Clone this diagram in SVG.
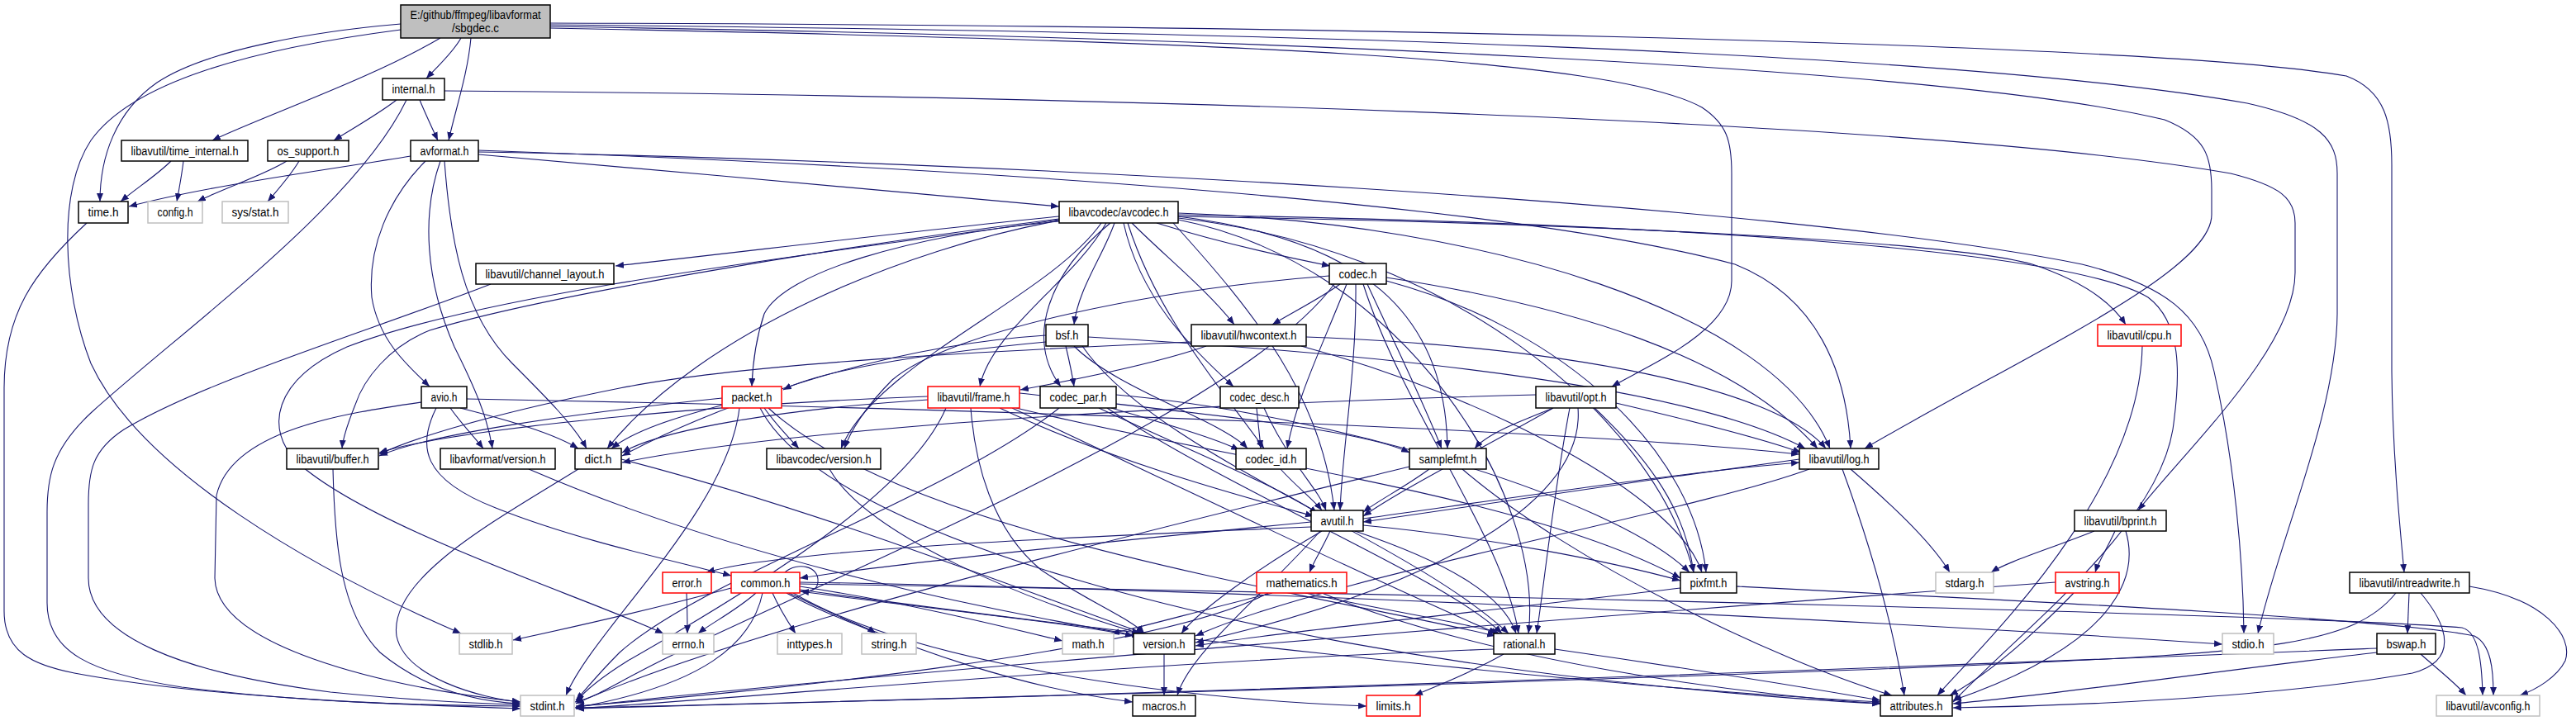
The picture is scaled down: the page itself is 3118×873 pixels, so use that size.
<svg xmlns="http://www.w3.org/2000/svg" width="3118" height="873" viewBox="0 0 3118 873">
<style>
.n rect{fill:#fff;stroke:#000;stroke-width:1.5}
.n.g rect{stroke:#bfbfbf}
.n.r rect{stroke:#f00}
.n.m rect{fill:#bfbfbf;stroke:#000}
.n text{font-family:"Liberation Sans",Arial,sans-serif;font-size:14px;fill:#000;text-anchor:middle}
#edges path{fill:none;stroke:#191970;stroke-width:1.1;marker-end:url(#a)}
</style>
<defs>
<marker id="a" markerUnits="userSpaceOnUse" markerWidth="11" markerHeight="8" refX="10" refY="4" orient="auto"><path d="M0,0 L10,4 L0,8 Z" fill="#191970"/></marker>
</defs>
<rect width="3118" height="873" fill="#fff"/>
<g id="edges">
<path d="M558,46 C548,64 530,80 516,95"/>
<path d="M570,46 C566,90 552,130 543,170"/>
<path d="M533,46 C450,95 320,140 257,170"/>
<path d="M485,29 C380,38 250,60 190,100 C140,135 121,190 121,244"/>
<path d="M485,36 C300,60 160,100 110,170 C70,230 75,350 110,440 C170,570 380,690 558,767"/>
<path d="M666,28 C1500,30 2600,50 2840,92 C2888,110 2895,150 2895,200 L2895,450 C2896,550 2905,640 2910,693"/>
<path d="M666,30 C1500,38 2350,60 2720,125 C2810,145 2829,170 2829,210 L2829,380 C2828,500 2760,650 2733,767"/>
<path d="M666,32 C1500,45 2350,80 2620,145 C2670,165 2677,190 2677,230 L2677,260 C2677,330 2450,430 2257,543"/>
<path d="M666,34 C1500,50 1950,70 2060,130 C2090,150 2096,170 2096,210 L2096,340 C2096,400 2000,440 1951,468"/>
<path d="M480,121 C458,138 428,155 404,170"/>
<path d="M508,121 C515,138 523,155 530,170"/>
<path d="M492,121 C430,250 220,400 110,500 C62,545 57,580 57,620 L57,730 C57,790 110,815 220,832 C380,852 520,854 630,855"/>
<path d="M538,110 C1200,115 2300,140 2700,210 C2760,225 2778,240 2778,270 L2778,330 C2778,420 2650,540 2588,618"/>
<path d="M207,195 C190,212 165,228 146,244"/>
<path d="M222,195 C220,212 217,228 214,244"/>
<path d="M347,195 C320,212 270,228 239,244"/>
<path d="M362,195 C352,212 338,228 324,244"/>
<path d="M497,189 C400,205 250,225 156,250"/>
<path d="M579,187 C800,205 1100,235 1282,250"/>
<path d="M515,195 C470,240 445,300 450,360 C458,410 490,440 520,468"/>
<path d="M533,195 C510,260 515,340 550,420 C575,470 590,505 596,543"/>
<path d="M538,195 C545,290 560,380 620,440 C660,480 695,515 710,543"/>
<path d="M579,184 C1200,195 2150,245 2520,320 C2620,345 2665,380 2680,450 C2705,560 2715,680 2716,767"/>
<path d="M579,182 C1100,200 1800,240 2100,320 C2200,360 2235,450 2240,543"/>
<path d="M105,270 C40,330 5,380 5,470 L5,740 C5,790 40,805 90,815 C250,845 480,853 630,858"/>
<path d="M1282,262 C1100,280 900,305 745,322"/>
<path d="M1282,266 C1050,300 600,350 420,420 C330,460 320,520 360,560 C450,640 700,720 803,767"/>
<path d="M1282,265 C1000,300 650,360 520,400 C470,420 440,460 430,490 C420,515 415,530 414,543"/>
<path d="M1282,267 C1100,300 850,400 735,543"/>
<path d="M1282,268 C1100,285 950,330 925,380 C915,410 911,440 910,468"/>
<path d="M1333,270 C1270,360 1060,440 1018,543"/>
<path d="M1339,270 C1300,340 1200,400 1186,468"/>
<path d="M1349,270 C1335,310 1305,350 1300,393"/>
<path d="M1344,270 C1270,330 1240,410 1284,468"/>
<path d="M1360,270 C1380,360 1440,420 1493,468"/>
<path d="M1365,270 C1400,380 1470,460 1530,543"/>
<path d="M1370,270 C1410,310 1460,350 1494,393"/>
<path d="M1400,270 C1480,295 1560,312 1610,322"/>
<path d="M1426,262 C1650,290 1750,380 1752,543"/>
<path d="M1420,270 C1520,380 1600,480 1615,618"/>
<path d="M1426,258 C1800,270 2150,380 2215,543"/>
<path d="M1426,264 C1750,300 2000,500 2050,693"/>
<path d="M1426,266 C1700,320 1870,600 1850,767"/>
<path d="M1426,262 C1900,270 2350,290 2460,320 C2520,340 2555,365 2573,393"/>
<path d="M1426,260 C2000,270 2500,300 2600,360 C2640,390 2640,450 2630,520 C2610,640 2450,760 2364,850"/>
<path d="M594,344 C450,400 250,460 150,520 C112,545 107,570 107,610 L107,700 C107,770 220,815 400,838 C500,848 580,852 630,853"/>
<path d="M1266,406 C1050,420 850,500 753,552"/>
<path d="M1317,408 C1700,430 2050,470 2185,543"/>
<path d="M1310,419 C1400,550 1700,650 1826,767"/>
<path d="M1300,419 C1350,470 1480,510 1510,543"/>
<path d="M1290,419 C1295,440 1298,455 1300,468"/>
<path d="M1266,414 C1150,425 1000,445 948,472"/>
<path d="M1615,344 C1500,500 1000,700 800,800 C740,830 720,845 696,850"/>
<path d="M1641,344 C1642,450 1625,540 1622,618"/>
<path d="M1622,344 C1600,360 1565,378 1540,393"/>
<path d="M1678,336 C1900,370 2100,430 2200,543"/>
<path d="M1678,340 C1900,400 2050,550 2065,693"/>
<path d="M1650,344 C1700,500 1820,650 1838,767"/>
<path d="M1655,344 C1690,420 1720,480 1745,543"/>
<path d="M1630,344 C1600,420 1570,480 1558,543"/>
<path d="M1609,334 C1400,350 1150,400 1080,460 C1050,490 1030,520 1022,543"/>
<path d="M1442,414 C1200,425 900,440 750,470 C600,500 500,530 459,550"/>
<path d="M1460,419 C1400,440 1300,460 1235,472"/>
<path d="M1581,408 C1900,420 2150,470 2210,543"/>
<path d="M1575,419 C1800,480 2030,600 2060,693"/>
<path d="M1530,494 C1560,560 1595,590 1605,618"/>
<path d="M1521,494 C1523,515 1525,530 1526,543"/>
<path d="M1550,568 C1570,590 1590,605 1600,618"/>
<path d="M1282,494 C1150,600 850,700 750,790 C720,820 705,840 697,848"/>
<path d="M1330,494 C1450,550 1550,590 1595,622"/>
<path d="M1340,494 C1500,600 1750,700 1818,767"/>
<path d="M1351,478 C1600,500 1950,600 2045,693"/>
<path d="M1345,494 C1400,510 1470,530 1500,545"/>
<path d="M895,494 C880,620 720,760 685,842"/>
<path d="M920,494 C1000,650 1500,780 2000,830 C2150,845 2230,850 2276,852"/>
<path d="M874,482 C700,500 520,525 459,552"/>
<path d="M876,490 C820,505 770,520 740,543"/>
<path d="M930,494 C1100,650 1600,720 1810,770"/>
<path d="M925,494 C940,515 955,530 967,543"/>
<path d="M1145,494 C1100,600 900,720 760,800 C720,825 705,840 697,850"/>
<path d="M1210,494 C1350,560 1500,600 1590,625"/>
<path d="M1123,480 C850,490 550,520 459,548"/>
<path d="M1123,484 C950,495 800,520 753,548"/>
<path d="M1225,494 C1450,600 1700,720 1812,767"/>
<path d="M1234,476 C1450,500 1650,520 1706,548"/>
<path d="M1230,494 C1500,560 1850,600 2034,700"/>
<path d="M1175,494 C1180,560 1200,640 1260,690 C1320,730 1370,750 1385,767"/>
<path d="M510,487 C420,500 280,520 262,600 L260,700 C262,780 450,830 630,850"/>
<path d="M528,494 C505,540 510,580 600,615 C700,655 820,680 885,697"/>
<path d="M557,494 C620,510 670,525 700,543"/>
<path d="M565,483 C1200,495 1900,520 2178,550"/>
<path d="M545,494 C560,515 575,530 585,543"/>
<path d="M640,568 C900,680 1200,740 1380,770"/>
<path d="M700,568 C600,630 470,700 480,770 C490,820 580,845 630,850"/>
<path d="M752,556 C1000,620 1250,720 1385,767"/>
<path d="M403,568 C405,650 410,740 460,790 C520,840 590,850 630,852"/>
<path d="M1004,568 C1050,650 1250,730 1380,767"/>
<path d="M1706,565 C1400,640 900,760 697,852"/>
<path d="M1730,568 C1700,590 1670,605 1650,620"/>
<path d="M1770,568 C1900,680 2150,800 2290,842"/>
<path d="M1900,494 C1880,600 1870,700 1860,767"/>
<path d="M1880,494 C1800,540 1700,590 1650,625"/>
<path d="M1859,478 C1400,490 950,520 753,560"/>
<path d="M1956,488 C2050,510 2130,530 2180,548"/>
<path d="M1930,494 C2000,560 2040,620 2050,693"/>
<path d="M1880,494 C1840,510 1800,525 1785,543"/>
<path d="M1910,494 C1920,620 1700,720 1447,778"/>
<path d="M1587,632 C1400,650 1100,680 968,700"/>
<path d="M1587,638 C1300,650 950,665 855,693"/>
<path d="M1640,643 C1750,680 1820,720 1835,767"/>
<path d="M1600,643 C1520,690 1450,740 1430,767"/>
<path d="M1598,643 C1530,720 1440,790 1425,842"/>
<path d="M1610,643 C1600,665 1590,680 1585,693"/>
<path d="M1650,628 C1850,600 2050,570 2178,560"/>
<path d="M1650,636 C1800,650 1950,680 2034,703"/>
<path d="M2240,568 C2300,620 2340,660 2360,693"/>
<path d="M2178,556 C2000,580 1800,610 1650,632"/>
<path d="M2230,568 C2260,650 2290,750 2305,842"/>
<path d="M2190,568 C2050,620 1600,700 1447,770"/>
<path d="M831,718 C832,740 832,755 832,767"/>
<path d="M915,718 C890,740 860,755 845,767"/>
<path d="M935,718 C945,740 955,755 963,767"/>
<path d="M960,718 C1100,800 1400,845 1654,855"/>
<path d="M968,710 C1100,730 1220,760 1286,776"/>
<path d="M923,718 C910,780 850,830 696,857"/>
<path d="M968,705 C1600,715 2400,760 2690,780"/>
<path d="M885,712 C800,735 700,758 621,775"/>
<path d="M952,718 C1000,745 1050,760 1060,767"/>
<path d="M968,714 C1300,760 1900,830 2276,850"/>
<path d="M955,718 C1100,790 1250,835 1371,850"/>
<path d="M968,716 C1150,740 1300,755 1372,770"/>
<path d="M968,707 C1800,720 2800,745 2980,760 C3000,765 3004,800 3005,842"/>
<path d="M950,693 C965,680 992,685 990,705 C989,715 980,717 969,716"/>
<path d="M1535,718 C1400,790 900,840 697,855"/>
<path d="M1540,718 C1450,740 1380,760 1345,767"/>
<path d="M1600,718 C1800,800 2100,840 2276,852"/>
<path d="M1580,718 C1680,740 1780,755 1815,767"/>
<path d="M2102,710 C2500,730 2900,750 2995,770 C3015,780 3018,810 3018,842"/>
<path d="M2034,712 C1800,740 1550,765 1447,782"/>
<path d="M1808,786 C1400,800 900,845 697,858"/>
<path d="M1820,792 C1780,815 1740,830 1712,842"/>
<path d="M1882,786 C2050,810 2200,835 2276,848"/>
<path d="M1409,792 L1409,842"/>
<path d="M2593,419 C2590,600 2400,780 2345,842"/>
<path d="M2535,643 C2480,665 2430,680 2410,693"/>
<path d="M2573,643 C2590,700 2560,780 2364,848"/>
<path d="M2560,643 C2550,665 2540,680 2536,693"/>
<path d="M2488,705 C2000,740 1000,820 697,856"/>
<path d="M2510,718 C2450,780 2400,820 2360,842"/>
<path d="M2900,718 C2850,780 2750,790 2400,805 C1800,830 1000,850 697,858"/>
<path d="M2989,710 C3080,725 3115,770 3105,800 C3095,820 3070,835 3050,842"/>
<path d="M2930,718 C2965,760 2975,800 2920,815 C2750,845 2500,855 2364,857"/>
<path d="M2916,718 L2914,767"/>
<path d="M2877,785 C2500,800 1500,840 697,857"/>
<path d="M2930,792 C2950,810 2970,825 2985,842"/>
<path d="M2877,790 C2700,810 2500,840 2364,852"/>
</g>
<g id="sbgdec" class="n m"><rect x="485" y="6" width="181" height="40"/><text x="575.5" y="23" textLength="158" lengthAdjust="spacingAndGlyphs">E:/github/ffmpeg/libavformat</text><text x="575.5" y="39" textLength="57" lengthAdjust="spacingAndGlyphs">/sbgdec.c</text></g>
<g id="internal" class="n"><rect x="463" y="95" width="75" height="26"/><text x="500.5" y="113" textLength="52" lengthAdjust="spacingAndGlyphs">internal.h</text></g>
<g id="time_internal" class="n"><rect x="147" y="170" width="153" height="25"/><text x="223.5" y="188" textLength="130" lengthAdjust="spacingAndGlyphs">libavutil/time_internal.h</text></g>
<g id="os_support" class="n"><rect x="324" y="170" width="98" height="25"/><text x="373" y="188" textLength="75" lengthAdjust="spacingAndGlyphs">os_support.h</text></g>
<g id="avformat" class="n"><rect x="497" y="170" width="82" height="25"/><text x="538" y="188" textLength="59" lengthAdjust="spacingAndGlyphs">avformat.h</text></g>
<g id="time" class="n"><rect x="95" y="244" width="60" height="26"/><text x="125" y="262" textLength="37" lengthAdjust="spacingAndGlyphs">time.h</text></g>
<g id="config" class="n g"><rect x="179" y="244" width="66" height="26"/><text x="212" y="262" textLength="43" lengthAdjust="spacingAndGlyphs">config.h</text></g>
<g id="sysstat" class="n g"><rect x="269" y="244" width="80" height="26"/><text x="309" y="262" textLength="57" lengthAdjust="spacingAndGlyphs">sys/stat.h</text></g>
<g id="channel_layout" class="n"><rect x="576" y="319" width="167" height="25"/><text x="659.5" y="337" textLength="144" lengthAdjust="spacingAndGlyphs">libavutil/channel_layout.h</text></g>
<g id="avcodec" class="n"><rect x="1282" y="244" width="144" height="26"/><text x="1354" y="262" textLength="121" lengthAdjust="spacingAndGlyphs">libavcodec/avcodec.h</text></g>
<g id="bsf" class="n"><rect x="1266" y="393" width="51" height="26"/><text x="1291.5" y="411" textLength="28" lengthAdjust="spacingAndGlyphs">bsf.h</text></g>
<g id="hwcontext" class="n"><rect x="1442" y="393" width="139" height="26"/><text x="1511.5" y="411" textLength="116" lengthAdjust="spacingAndGlyphs">libavutil/hwcontext.h</text></g>
<g id="codec" class="n"><rect x="1609" y="319" width="69" height="25"/><text x="1643.5" y="337" textLength="46" lengthAdjust="spacingAndGlyphs">codec.h</text></g>
<g id="cpu" class="n r"><rect x="2539" y="393" width="101" height="26"/><text x="2589.5" y="411" textLength="78" lengthAdjust="spacingAndGlyphs">libavutil/cpu.h</text></g>
<g id="avio" class="n"><rect x="510" y="468" width="55" height="26"/><text x="537.5" y="486" textLength="32" lengthAdjust="spacingAndGlyphs">avio.h</text></g>
<g id="buffer" class="n"><rect x="347" y="543" width="111" height="25"/><text x="402.5" y="561" textLength="88" lengthAdjust="spacingAndGlyphs">libavutil/buffer.h</text></g>
<g id="lavfversion" class="n"><rect x="533" y="543" width="139" height="25"/><text x="602.5" y="561" textLength="116" lengthAdjust="spacingAndGlyphs">libavformat/version.h</text></g>
<g id="dict" class="n"><rect x="696" y="543" width="56" height="25"/><text x="724" y="561" textLength="33" lengthAdjust="spacingAndGlyphs">dict.h</text></g>
<g id="stdlib" class="n g"><rect x="556" y="767" width="64" height="25"/><text x="588" y="785" textLength="41" lengthAdjust="spacingAndGlyphs">stdlib.h</text></g>
<g id="stdint" class="n g"><rect x="630" y="842" width="65" height="25"/><text x="662.5" y="860" textLength="42" lengthAdjust="spacingAndGlyphs">stdint.h</text></g>
<g id="packet" class="n r"><rect x="874" y="468" width="72" height="26"/><text x="910" y="486" textLength="49" lengthAdjust="spacingAndGlyphs">packet.h</text></g>
<g id="frame" class="n r"><rect x="1123" y="468" width="111" height="26"/><text x="1178.5" y="486" textLength="88" lengthAdjust="spacingAndGlyphs">libavutil/frame.h</text></g>
<g id="codec_par" class="n"><rect x="1259" y="468" width="92" height="26"/><text x="1305" y="486" textLength="69" lengthAdjust="spacingAndGlyphs">codec_par.h</text></g>
<g id="codec_desc" class="n"><rect x="1477" y="468" width="95" height="26"/><text x="1524.5" y="486" textLength="72" lengthAdjust="spacingAndGlyphs">codec_desc.h</text></g>
<g id="lavcversion" class="n"><rect x="928" y="543" width="138" height="25"/><text x="997" y="561" textLength="115" lengthAdjust="spacingAndGlyphs">libavcodec/version.h</text></g>
<g id="codec_id" class="n"><rect x="1496" y="543" width="85" height="25"/><text x="1538.5" y="561" textLength="62" lengthAdjust="spacingAndGlyphs">codec_id.h</text></g>
<g id="error" class="n r"><rect x="802" y="693" width="59" height="25"/><text x="831.5" y="711" textLength="36" lengthAdjust="spacingAndGlyphs">error.h</text></g>
<g id="common" class="n r"><rect x="885" y="693" width="83" height="25"/><text x="926.5" y="711" textLength="60" lengthAdjust="spacingAndGlyphs">common.h</text></g>
<g id="errno" class="n g"><rect x="802" y="767" width="62" height="25"/><text x="833" y="785" textLength="39" lengthAdjust="spacingAndGlyphs">errno.h</text></g>
<g id="inttypes" class="n g"><rect x="941" y="767" width="78" height="25"/><text x="980" y="785" textLength="55" lengthAdjust="spacingAndGlyphs">inttypes.h</text></g>
<g id="string" class="n g"><rect x="1043" y="767" width="66" height="25"/><text x="1076" y="785" textLength="43" lengthAdjust="spacingAndGlyphs">string.h</text></g>
<g id="math" class="n g"><rect x="1286" y="767" width="62" height="25"/><text x="1317" y="785" textLength="39" lengthAdjust="spacingAndGlyphs">math.h</text></g>
<g id="version" class="n"><rect x="1372" y="767" width="74" height="25"/><text x="1409" y="785" textLength="51" lengthAdjust="spacingAndGlyphs">version.h</text></g>
<g id="macros" class="n"><rect x="1371" y="842" width="76" height="25"/><text x="1409" y="860" textLength="53" lengthAdjust="spacingAndGlyphs">macros.h</text></g>
<g id="mathematics" class="n r"><rect x="1521" y="693" width="109" height="25"/><text x="1575.5" y="711" textLength="86" lengthAdjust="spacingAndGlyphs">mathematics.h</text></g>
<g id="opt" class="n"><rect x="1859" y="468" width="97" height="26"/><text x="1907.5" y="486" textLength="74" lengthAdjust="spacingAndGlyphs">libavutil/opt.h</text></g>
<g id="samplefmt" class="n"><rect x="1706" y="543" width="93" height="25"/><text x="1752.5" y="561" textLength="70" lengthAdjust="spacingAndGlyphs">samplefmt.h</text></g>
<g id="log" class="n"><rect x="2178" y="543" width="96" height="25"/><text x="2226" y="561" textLength="73" lengthAdjust="spacingAndGlyphs">libavutil/log.h</text></g>
<g id="avutil" class="n"><rect x="1587" y="618" width="63" height="25"/><text x="1618.5" y="636" textLength="40" lengthAdjust="spacingAndGlyphs">avutil.h</text></g>
<g id="pixfmt" class="n"><rect x="2034" y="693" width="68" height="25"/><text x="2068" y="711" textLength="45" lengthAdjust="spacingAndGlyphs">pixfmt.h</text></g>
<g id="rational" class="n"><rect x="1808" y="767" width="74" height="25"/><text x="1845" y="785" textLength="51" lengthAdjust="spacingAndGlyphs">rational.h</text></g>
<g id="limits" class="n r"><rect x="1654" y="842" width="65" height="25"/><text x="1686.5" y="860" textLength="42" lengthAdjust="spacingAndGlyphs">limits.h</text></g>
<g id="attributes" class="n"><rect x="2276" y="842" width="87" height="25"/><text x="2319.5" y="860" textLength="64" lengthAdjust="spacingAndGlyphs">attributes.h</text></g>
<g id="bprint" class="n"><rect x="2511" y="618" width="111" height="25"/><text x="2566.5" y="636" textLength="88" lengthAdjust="spacingAndGlyphs">libavutil/bprint.h</text></g>
<g id="stdarg" class="n g"><rect x="2343" y="693" width="70" height="25"/><text x="2378" y="711" textLength="47" lengthAdjust="spacingAndGlyphs">stdarg.h</text></g>
<g id="avstring" class="n r"><rect x="2488" y="693" width="77" height="25"/><text x="2526.5" y="711" textLength="54" lengthAdjust="spacingAndGlyphs">avstring.h</text></g>
<g id="intreadwrite" class="n"><rect x="2844" y="693" width="145" height="25"/><text x="2916.5" y="711" textLength="122" lengthAdjust="spacingAndGlyphs">libavutil/intreadwrite.h</text></g>
<g id="stdio" class="n g"><rect x="2690" y="767" width="62" height="25"/><text x="2721" y="785" textLength="39" lengthAdjust="spacingAndGlyphs">stdio.h</text></g>
<g id="bswap" class="n"><rect x="2877" y="767" width="71" height="25"/><text x="2912.5" y="785" textLength="48" lengthAdjust="spacingAndGlyphs">bswap.h</text></g>
<g id="avconfig" class="n g"><rect x="2949" y="842" width="125" height="25"/><text x="3011.5" y="860" textLength="102" lengthAdjust="spacingAndGlyphs">libavutil/avconfig.h</text></g>
</svg>
